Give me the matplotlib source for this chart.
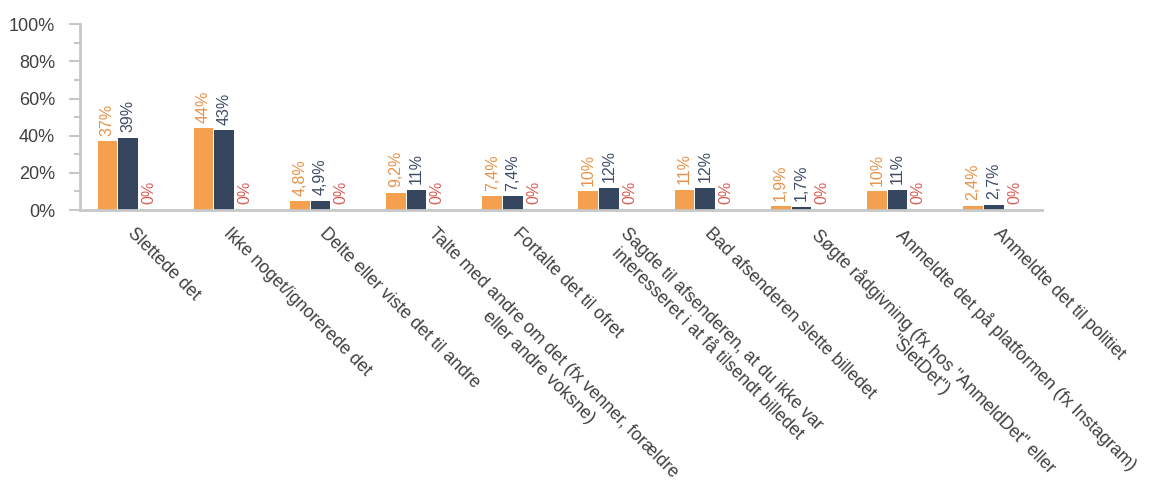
import numpy as np
import matplotlib
matplotlib.use('Agg')
import matplotlib.pyplot as plt
from matplotlib.ticker import MultipleLocator, FuncFormatter

plt.rcParams['font.family'] = ['Liberation Sans', 'DejaVu Sans']

categories = [
    'Slettede det',
    'Ikke noget/ignorerede det',
    'Delte eller viste det til andre',
    'Talte med andre om det (fx venner, forældre\neller andre voksne)',
    'Fortalte det til ofret',
    'Sagde til afsenderen, at du ikke var\ninteresseret i at få tilsendt billedet',
    'Bad afsenderen slette billedet',
    'Søgte rådgivning (fx hos "AnmeldDet" eller\n"SletDet")',
    'Anmeldte det på platformen (fx Instagram)',
    'Anmeldte det til politiet',
]
series_a = [37, 44, 4.8, 9.2, 7.4, 10, 11, 1.9, 10, 2.4]
series_b = [39, 43, 4.9, 11, 7.4, 12, 12, 1.7, 11, 2.7]
series_c = [0, 0, 0, 0, 0, 0, 0, 0, 0, 0]

bar_colors = ['#F4A04F', '#36465F', '#D9605A']
label_colors = ['#E8924A', '#3F4C66', '#D9605A']


def fmt(v):
    if v == 0:
        return '0%'
    if v < 10:
        return ('%.1f' % v).replace('.', ',') + '%'
    return '%.0f%%' % v


fig = plt.figure(figsize=(11.52, 4.93), dpi=100)
ax = fig.add_axes([0.0694, 0.574, 0.835, 0.377])

x = np.arange(len(categories))
w = 0.205
offsets = [-0.215, 0.0, 0.215]
for vals, off, bc, lc in zip([series_a, series_b, series_c], offsets, bar_colors, label_colors):
    vals = np.array(vals) / 100
    ax.bar(x + off, vals, width=w, color=bc, linewidth=0)
    for xi, v in zip(x + off, vals):
        ax.annotate(fmt(v * 100), (xi, v), xytext=(0, 4), textcoords='offset points',
                    rotation=90, ha='center', va='bottom', color=lc, fontsize=11.5)

ax.set_xlim(-0.5, 9.5)
ax.set_ylim(0, 1)
ax.yaxis.set_major_locator(MultipleLocator(0.2))
ax.yaxis.set_minor_locator(MultipleLocator(0.1))
ax.yaxis.set_major_formatter(FuncFormatter(lambda v, p: '%d%%' % round(v * 100)))

for s in ['top', 'right']:
    ax.spines[s].set_visible(False)
for s in ['left', 'bottom']:
    ax.spines[s].set_color('#C8C8C8')
    ax.spines[s].set_linewidth(2)

ax.tick_params(axis='y', which='major', length=8, width=1.5, color='#C8C8C8',
               labelsize=13, labelcolor='#404040', pad=10)
ax.tick_params(axis='y', which='minor', length=4, width=1.5, color='#C8C8C8')
ax.set_xticks([])

# rotated category labels; two-line labels sit a line further right
trans = ax.get_xaxis_transform()
for xi, lab in zip(x, categories):
    dx = 8 + 12 * lab.count('\n')
    ax.annotate(lab, (xi, 0), xycoords=trans, xytext=(dx * 0.72, -11),
                textcoords='offset points', rotation=-45, ha='left', va='top',
                rotation_mode='anchor', multialignment='center',
                fontsize=12.8, color='#404040', annotation_clip=False)

fig.savefig('out.png', dpi=100)
